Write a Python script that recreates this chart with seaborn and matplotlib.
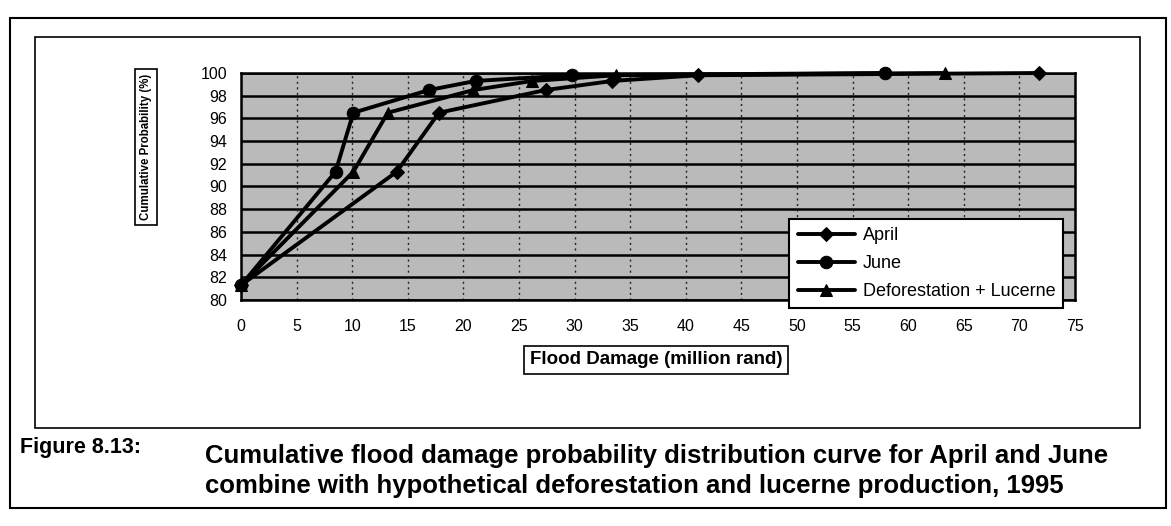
import matplotlib
matplotlib.use("Agg")
import matplotlib.pyplot as plt
from matplotlib.patches import Rectangle
import seaborn as sns
import pandas as pd

# Cumulative probability levels shared by every scenario (%)
probability = [81.3, 91.3, 96.5, 98.5, 99.3, 99.8, 100.0]

# Flood damage (million rand) at each probability level
april = [0.0, 14.0, 17.8, 27.4, 33.4, 41.1, 71.8]
june = [0.0, 8.5, 10.1, 16.9, 21.1, 29.8, 57.9]
deforestation_lucerne = [0.0, 10.1, 13.2, 20.9, 26.2, 33.7, 63.3]

series_names = ["April", "June", "Deforestation + Lucerne"]
series_markers = {"April": "D", "June": "o", "Deforestation + Lucerne": "^"}

x_ticks = list(range(0, 80, 5))
y_ticks = list(range(80, 102, 2))

frames = []
for name, damage in zip(series_names, [april, june, deforestation_lucerne]):
    frames.append(pd.DataFrame({"damage": damage, "probability": probability, "series": name}))
df = pd.concat(frames, ignore_index=True)

sns.set_theme(style="white")
plt.rcParams["font.family"] = ["Liberation Sans", "DejaVu Sans"]
plt.rcParams["text.color"] = "black"

W, H = 1171, 526
fig = plt.figure(figsize=(W / 100, H / 100), dpi=100)
fig.patch.set_facecolor("white")

# plot area
left, right, top, bottom = 241, 1075, 73, 300
ax = fig.add_axes([left / W, 1 - bottom / H, (right - left) / W, (bottom - top) / H])
ax.set_facecolor("#bababa")

sns.lineplot(
    data=df, x="damage", y="probability", hue="series", style="series",
    hue_order=series_names, style_order=series_names,
    palette=["black"] * 3, markers=series_markers, dashes=False,
    markersize=9, linewidth=2.8, estimator=None, sort=False,
    markeredgecolor="black", ax=ax,
)

for line in ax.lines:
    line.set_clip_on(False)
    line.set_zorder(5)
    if line.get_marker() == "D":
        line.set_markersize(7.5)

ax.set_xlim(0, 75)
ax.set_ylim(80, 100)
ax.set_xticks(x_ticks)
ax.set_yticks(y_ticks)
ax.set_xlabel("")
ax.set_ylabel("")

# horizontal gridlines solid, vertical gridlines dotted
for y in y_ticks:
    ax.axhline(y, color="black", linewidth=1.8, zorder=1)
for x in x_ticks:
    ax.axvline(x, color="#222222", linewidth=1.0, linestyle=(0, (1.5, 2.5)), zorder=1)

for spine in ax.spines.values():
    spine.set_visible(True)
    spine.set_color("black")
    spine.set_linewidth(1.8)

ax.tick_params(axis="both", which="major", direction="out", length=4, width=1,
               color="black", labelsize=11.5, labelcolor="black")
ax.tick_params(axis="x", pad=10)
ax.tick_params(axis="y", pad=6)
for lab in ax.get_xticklabels() + ax.get_yticklabels():
    lab.set_fontweight("medium")

handles, labels = ax.get_legend_handles_labels()
for h in handles:
    if h.get_marker() == "D":
        h.set_markersize(7.5)
leg = ax.legend(
    handles, labels, loc="lower right", bbox_to_anchor=(0.986, -0.035),
    frameon=True, fancybox=False, framealpha=1, edgecolor="black",
    fontsize=13, handlelength=3.2, handletextpad=0.4, labelspacing=0.6,
    borderpad=0.45, borderaxespad=0, labelcolor="black",
)
leg.get_frame().set_linewidth(1.5)
leg.set_zorder(10)

# axis titles in boxes
fig.text(146 / W, 1 - 147 / H, "Cumulative Probability (%)", rotation=90,
         ha="center", va="center", fontsize=8.3, fontweight="bold",
         bbox=dict(boxstyle="square,pad=0.45", fc="white", ec="black", lw=1.2))
fig.text(656 / W, 1 - 360 / H, "Flood Damage (million rand)",
         ha="center", va="center", fontsize=13.5, fontweight="bold",
         bbox=dict(boxstyle="square,pad=0.3", fc="white", ec="black", lw=1.2))

# chart border and page frame
fig.add_artist(Rectangle((35 / W, 1 - 428 / H), (1140 - 35) / W, (428 - 37) / H,
                         transform=fig.transFigure, fill=False, ec="black", lw=1.2))
fig.add_artist(Rectangle((10 / W, 1 - 508 / H), (1166 - 10) / W, (508 - 18) / H,
                         transform=fig.transFigure, fill=False, ec="black", lw=1.5))

# caption
fig.text(20 / W, 1 - 448 / H, "Figure 8.13:", ha="left", va="center",
         fontsize=15.5, fontweight="bold")
fig.text(205 / W, 1 - 456 / H,
         "Cumulative flood damage probability distribution curve for April and June",
         ha="left", va="center", fontsize=18.5, fontweight="bold")
fig.text(205 / W, 1 - 486 / H,
         "combine with hypothetical deforestation and lucerne production, 1995",
         ha="left", va="center", fontsize=18.5, fontweight="bold")

fig.savefig("out.png", dpi=100, facecolor="white")
